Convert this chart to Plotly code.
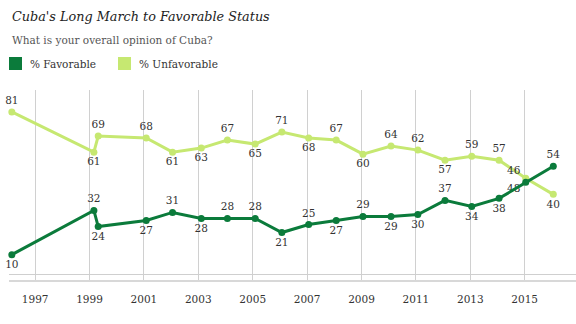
import plotly.graph_objects as go

# ---- data ----
dates = ["1996-02-23", "1999-03-01", "1999-04-28", "2001-02-01", "2002-01-20",
         "2003-02-10", "2004-01-27", "2005-02-03", "2006-01-27", "2007-01-22",
         "2008-01-27", "2009-01-20", "2010-02-01", "2011-01-27", "2012-01-27",
         "2013-01-20", "2014-01-22", "2015-01-15", "2016-01-20"]
favorable = [10, 32, 24, 27, 31, 28, 28, 28, 21, 25, 27, 29, 29, 30, 37, 34, 38, 46, 54]
unfavorable = [81, 61, 69, 68, 61, 63, 67, 65, 71, 68, 67, 60, 64, 62, 57, 59, 57, 48, 40]
fav_pos = ["bottom center", "top center", "bottom center", "bottom center", "top center",
           "bottom center", "top center", "top center", "bottom center", "top center",
           "bottom center", "top center", "bottom center", "bottom center", "top center",
           "bottom center", "bottom center", "top left", "top center"]
unfav_pos = ["top center", "bottom center", "top center", "top center", "bottom center",
             "bottom center", "top center", "bottom center", "top center", "bottom center",
             "top center", "bottom center", "top center", "top center", "bottom center",
             "top center", "top center", "bottom left", "bottom center"]
tick_years = [1997, 1999, 2001, 2003, 2005, 2007, 2009, 2011, 2013, 2015]

title = "Cuba's Long March to Favorable Status"
subtitle = "What is your overall opinion of Cuba?"
series_names = ["% Favorable", "% Unfavorable"]
FAV = "#0B7B3B"
UNFAV = "#C6E871"
SERIF = "'DejaVu Serif'"

fig = go.Figure()
fig.add_trace(go.Scatter(
    x=dates, y=unfavorable, mode="lines+markers+text", name=series_names[1],
    line=dict(color=UNFAV, width=3), marker=dict(color=UNFAV, size=7),
    text=[str(v) for v in unfavorable], textposition=unfav_pos,
    textfont=dict(family=SERIF, size=10.5, color="#333"), showlegend=False, cliponaxis=False))
fig.add_trace(go.Scatter(
    x=dates, y=favorable, mode="lines+markers+text", name=series_names[0],
    line=dict(color=FAV, width=3), marker=dict(color=FAV, size=7),
    text=[str(v) for v in favorable], textposition=fav_pos,
    textfont=dict(family=SERIF, size=10.5, color="#333"), showlegend=False, cliponaxis=False))

L, T, B = 9, 90, 44
annotations = [
    dict(text=title, x=0, y=1, xref="paper", yref="paper", xanchor="left", yanchor="middle",
         xshift=10 - L, yshift=T - 16.5, showarrow=False,
         font=dict(family=SERIF, size=12.8, color="#222", style="italic")),
    dict(text=subtitle, x=0, y=1, xref="paper", yref="paper", xanchor="left", yanchor="middle",
         xshift=10 - L, yshift=T - 40, showarrow=False,
         font=dict(family=SERIF, size=10.5, color="#555")),
]
shapes = []
legend_items = [(series_names[0], FAV, 9), (series_names[1], UNFAV, 118)]
for name, col, px in legend_items:
    shapes.append(dict(type="rect", xref="paper", yref="paper", xsizemode="pixel", ysizemode="pixel",
                       xanchor=0, yanchor=1, x0=px - L, x1=px - L + 13, y0=T - 70, y1=T - 57,
                       fillcolor=col, line=dict(width=0)))
    annotations.append(dict(text=name, x=0, y=1, xref="paper", yref="paper", xanchor="left",
                            yanchor="middle", xshift=px - L + 19, yshift=T - 63.5, showarrow=False,
                            font=dict(family=SERIF, size=10.5, color="#333")))

fig.update_layout(
    width=576, height=324, margin=dict(l=L, r=0, t=T, b=B),
    paper_bgcolor="white", plot_bgcolor="white",
    annotations=annotations, shapes=shapes,
    xaxis=dict(type="date", range=["1996-01-16", "2016-11-20"],
               tickvals=[f"{y}-01-01" for y in tick_years], ticktext=[str(y) for y in tick_years],
               showgrid=True, gridcolor="#d0d0d0", gridwidth=1,
               showline=True, linecolor="#d8d8d8", linewidth=2,
               ticks="", ticklabelstandoff=8,
               tickfont=dict(family=SERIF, size=10.5, color="#333"), zeroline=False, fixedrange=True),
    yaxis=dict(range=[-2.6, 91.9], showticklabels=False, showgrid=False, showline=False,
               ticks="", zeroline=True, zerolinecolor="#cfcfcf", zerolinewidth=1),
)
fig.write_html("out.html")
